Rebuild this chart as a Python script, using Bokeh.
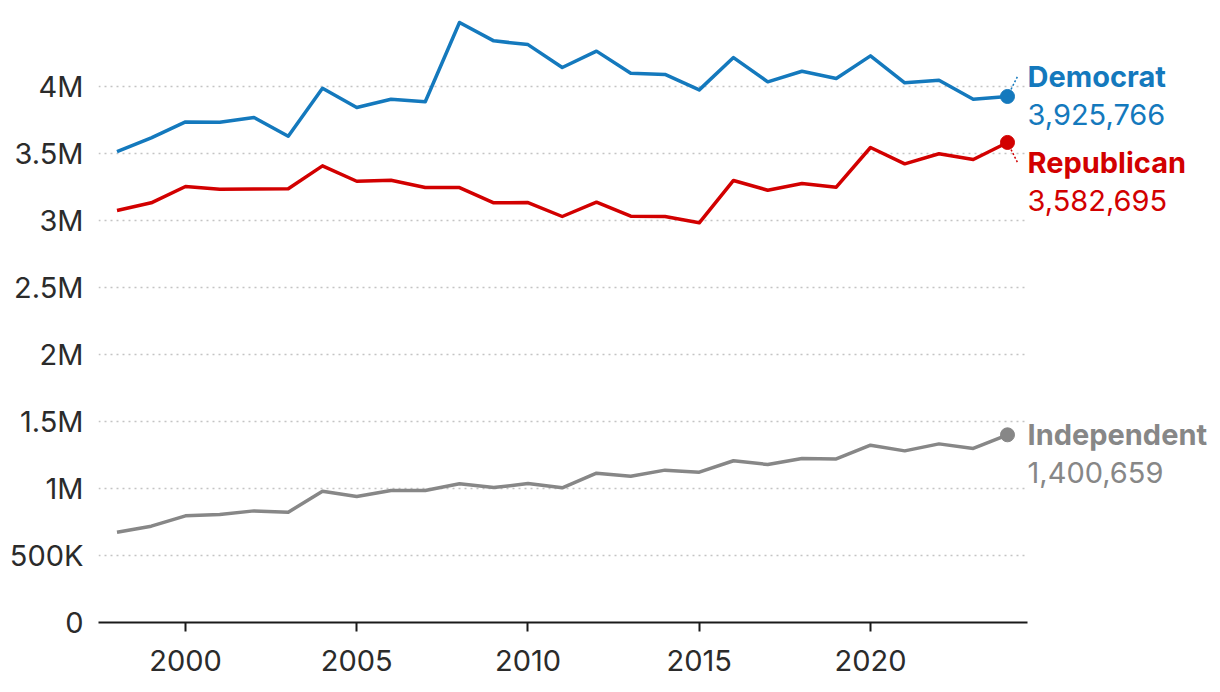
from bokeh.plotting import figure
from bokeh.models import FixedTicker, Range1d
from bokeh.core.properties import value
from bokeh.embed import file_html
from bokeh.resources import INLINE

# ---- data ----
years = list(range(1998, 2025))
democrat = [3515000, 3617000, 3736000, 3734000, 3769000, 3629000, 3987000, 3843000, 3905000, 3886000,
            4478000, 4341000, 4313000, 4142000, 4264000, 4099000, 4090000, 3975000, 4216000, 4035000,
            4114000, 4060000, 4229000, 4028000, 4047000, 3905000, 3925766]
republican = [3075000, 3132000, 3254000, 3234000, 3235000, 3237000, 3408000, 3293000, 3301000, 3246000,
              3246000, 3132000, 3134000, 3030000, 3137000, 3032000, 3030000, 2983000, 3299000, 3226000,
              3276000, 3249000, 3545000, 3423000, 3498000, 3455000, 3582695]
independent = [674000, 719000, 796000, 806000, 833000, 823000, 980000, 940000, 985000, 985000,
               1035000, 1007000, 1037000, 1005000, 1114000, 1092000, 1137000, 1122000, 1207000, 1179000,
               1224000, 1221000, 1323000, 1281000, 1333000, 1299000, 1400659]
series_names = ["Democrat", "Republican", "Independent"]
series_colors = ["#1479bd", "#d20000", "#878787"]
x_ticks = [2000, 2005, 2010, 2015, 2020]
y_ticks = [0, 500000, 1000000, 1500000, 2000000, 2500000, 3000000, 3500000, 4000000]
y_tick_labels = ["0", "500K", "1M", "1.5M", "2M", "2.5M", "3M", "3.5M", "4M"]

FONT = "Inter"
W, H = 1220, 692
BL, BR, BT, BB = 98, 2, 13, 70
Y_END = 4545000
X_START = 1997.46
AXIS_END = 2024.58
PX_PER_YEAR = 34.25
frame_w = W - BL - BR
X_END = X_START + frame_w / PX_PER_YEAR

p = figure(width=W, height=H, output_backend="svg", toolbar_location=None,
           x_range=Range1d(X_START, X_END), y_range=Range1d(0, Y_END),
           min_border_left=BL, min_border_right=BR, min_border_top=BT, min_border_bottom=BB)
p.outline_line_color = None
p.background_fill_color = "white"
p.border_fill_color = "white"

# axes
p.xaxis.ticker = FixedTicker(ticks=x_ticks)
p.xaxis.bounds = (X_START, AXIS_END)
p.xaxis.axis_line_color = "#1a1a1a"
p.xaxis.axis_line_width = 2
p.xaxis.major_tick_line_color = "#1a1a1a"
p.xaxis.major_tick_line_width = 2
p.xaxis.major_tick_out = 9
p.xaxis.major_tick_in = 0
p.xaxis.minor_tick_line_color = None
p.xaxis.major_label_text_font = FONT
p.xaxis.major_label_text_font_size = "29px"
p.xaxis.major_label_text_color = "#2b2b2b"
p.xaxis.major_label_standoff = 18

p.yaxis.ticker = FixedTicker(ticks=y_ticks)
p.yaxis.major_label_overrides = {t: l for t, l in zip(y_ticks, y_tick_labels)}
p.yaxis.axis_line_color = None
p.yaxis.major_tick_line_color = None
p.yaxis.minor_tick_line_color = None
p.yaxis.major_label_text_font = FONT
p.yaxis.major_label_text_font_size = "29px"
p.yaxis.major_label_text_color = "#2b2b2b"
p.yaxis.major_label_standoff = 9

p.xgrid.grid_line_color = None
p.ygrid.grid_line_color = None

# dotted horizontal gridlines, limited to the axis extent
grid_vals = y_ticks[1:]
p.segment(x0=[X_START] * len(grid_vals), x1=[AXIS_END] * len(grid_vals),
          y0=grid_vals, y1=grid_vals, line_color="#c4c4c4", line_width=1.5, line_dash="2 4")

all_series = [democrat, republican, independent]
for vals, col in zip(all_series, series_colors):
    p.line(years, vals, line_color=col, line_width=3.5, line_join="round")
    p.scatter([years[-1]], [vals[-1]], size=14, fill_color=col, line_color=col)

# label placement: de-overlap end labels in data units
frame_h = H - BT - BB
upp = Y_END / frame_h            # data units per pixel
min_gap = 86 * upp
ends = [s[-1] for s in all_series]
order = sorted(range(len(ends)), key=lambda i: -ends[i])
label_y = list(ends)
for a, b in zip(order[:-1], order[1:]):
    if label_y[a] - label_y[b] < min_gap:
        mid = (label_y[a] + label_y[b]) / 2
        label_y[a] = mid + min_gap / 2
        label_y[b] = mid - min_gap / 2

for i, (name, col) in enumerate(zip(series_names, series_colors)):
    if abs(label_y[i] - ends[i]) > 1:
        p.segment(x0=[years[-1]], y0=[ends[i]], x1=[years[-1] + 10 / PX_PER_YEAR], y1=[label_y[i]],
                  line_color=col, line_width=1.5, line_dash="2 2")
    p.text(x=[years[-1]], y=[label_y[i]], text=[name], x_offset=20, y_offset=0,
           text_font=value(FONT), text_font_size="29px", text_font_style="bold",
           text_color=col, text_baseline="middle", text_align="left")
    p.text(x=[years[-1]], y=[label_y[i]], text=[f"{ends[i]:,}"], x_offset=20, y_offset=38,
           text_font=value(FONT), text_font_size="29px",
           text_color=col, text_baseline="middle", text_align="left")

open("out.html", "w").write(file_html(p, INLINE))
